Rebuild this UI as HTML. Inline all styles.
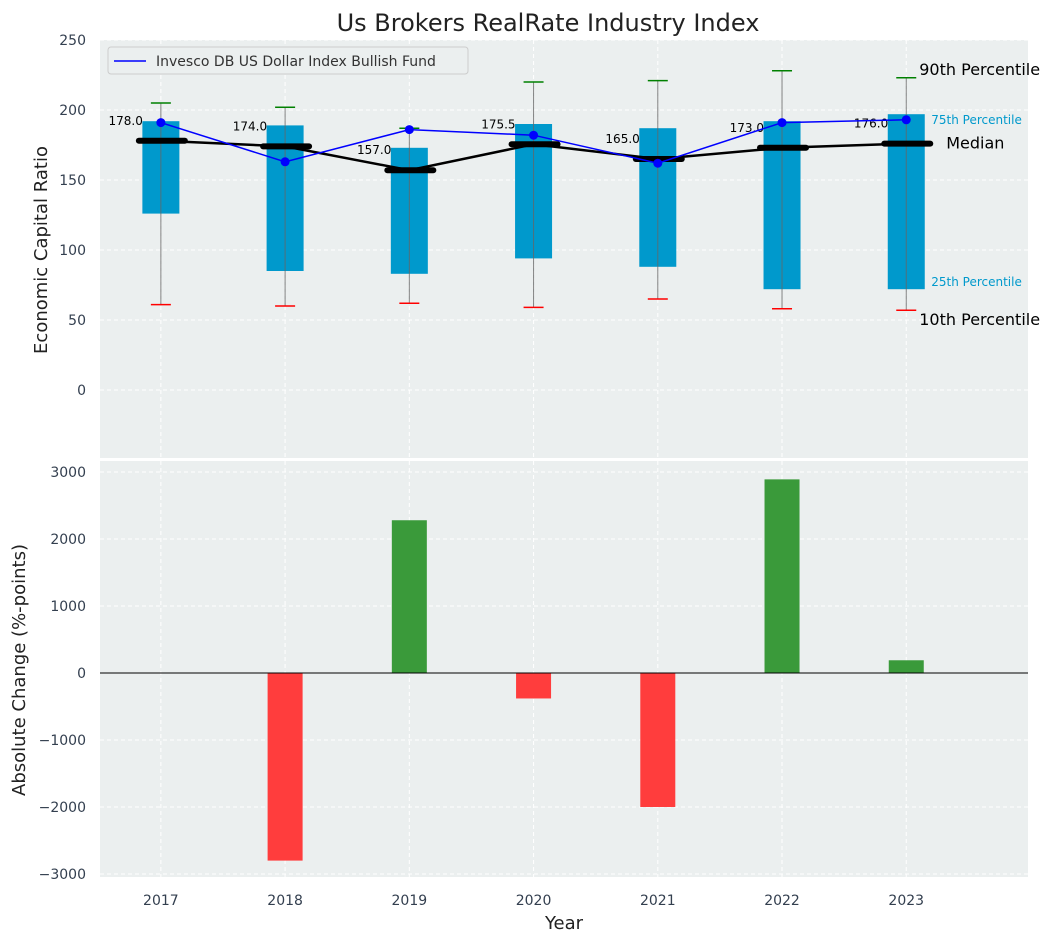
<!DOCTYPE html>
<html><head><meta charset="utf-8"><style>
body{margin:0;background:#fff;font-family:"Liberation Sans","DejaVu Sans",sans-serif;}
svg{display:block}
</style></head><body>
<svg id="chart" width="1054" height="942" xmlns="http://www.w3.org/2000/svg" font-family="DejaVu Sans, Liberation Sans, sans-serif"></svg>
<script>
const years=[2017,2018,2019,2020,2021,2022,2023];
const p10=[61,60,62,59,65,58,57];
const p25=[126,85,83,94,88,72,72];
const medians=[178,174,157,175.5,165,173,176];
const p75=[192,189,173,190,187,192,197];
const p90=[205,202,187,220,221,228,223];
const fundValues=[191,163,186,182,162,191,193];
const changes=[0,-2800,2280,-380,-2000,2890,190];
const topTicks=[0,50,100,150,200,250];
const botTicks=[-3000,-2000,-1000,0,1000,2000,3000];

const svg=document.getElementById('chart');
const NS='http://www.w3.org/2000/svg';
function mk(tag,attrs,parent,text){const e=document.createElementNS(NS,tag);for(const k in attrs)e.setAttribute(k,attrs[k]);if(text!==undefined)e.textContent=text;(parent||svg).appendChild(e);return e;}
const L=100,R=1028;
const x=v=>L+(v-2016.51)/(2023.98-2016.51)*(R-L);
const yT=v=>390-v*1.4;
const yB=v=>673-v*0.067;

let e=mk('rect',{x:L,y:40,width:R-L,height:418,fill:'#ebefef'});

e=mk('rect',{x:L,y:461,width:R-L,height:416,fill:'#ebefef'});


years.forEach(yr=>{
 mk('line',{x1:x(yr),x2:x(yr),y1:40,y2:458,stroke:'#fff','stroke-dasharray':'4,3','stroke-width':1});
 mk('line',{x1:x(yr),x2:x(yr),y1:461,y2:877,stroke:'#fff','stroke-dasharray':'4,3','stroke-width':1});
 const t=mk('text',{x:x(yr),y:905,'text-anchor':'middle','font-size':14,fill:'#333f4f'},null,yr);
 
});
topTicks.forEach(v=>{
 mk('line',{x1:L,x2:R,y1:yT(v),y2:yT(v),stroke:'#fff','stroke-dasharray':'4,3'});
 const t=mk('text',{x:86,y:yT(v)+5,'text-anchor':'end','font-size':14,fill:'#333f4f'},null,v);
 
});
botTicks.forEach(v=>{
 mk('line',{x1:L,x2:R,y1:yB(v),y2:yB(v),stroke:'#fff','stroke-dasharray':'4,3'});
 const t=mk('text',{x:86,y:yB(v)+5,'text-anchor':'end','font-size':14,fill:'#333f4f'},null,v<0?'\u2212'+(-v):v);
 
});

years.forEach((yr,i)=>{
 const cx=x(yr);
 let b=mk('rect',{x:cx-18.5,y:yT(p75[i]),width:37,height:yT(p25[i])-yT(p75[i]),fill:'#0099cc'});
 
 let w=mk('line',{x1:cx,x2:cx,y1:yT(p10[i]),y2:yT(p90[i]),stroke:'#666','stroke-width':1,opacity:0.8});
 
 let c1=mk('line',{x1:cx-10,x2:cx+10,y1:yT(p10[i]),y2:yT(p10[i]),stroke:'red','stroke-width':1.5});
 
 let c2=mk('line',{x1:cx-10,x2:cx+10,y1:yT(p90[i]),y2:yT(p90[i]),stroke:'green','stroke-width':1.5});
 
});
let mp=mk('polyline',{points:years.map((yr,i)=>x(yr)+','+yT(medians[i])).join(' '),fill:'none',stroke:'#000','stroke-width':2.5});

years.forEach((yr,i)=>{
 const cx=x(yr);
 let m=mk('line',{x1:cx-22,x2:cx+24,y1:yT(medians[i]),y2:yT(medians[i]),stroke:'#000','stroke-width':6,'stroke-linecap':'round'});
 
 let t=mk('text',{x:cx-18,y:yT(medians[i])-16,'text-anchor':'end','font-size':12,fill:'#000'},null,medians[i].toFixed(1));
 
});
let fl=mk('polyline',{points:years.map((yr,i)=>x(yr)+','+yT(fundValues[i])).join(' '),fill:'none',stroke:'blue','stroke-width':1.5});

years.forEach((yr,i)=>{
 let p=mk('circle',{cx:x(yr),cy:yT(fundValues[i]),r:4.5,fill:'blue'});
 
});
const last=years.length-1, ax=x(years[last]);
[[p90[last],'90th Percentile',13,16,'#000',-3],[p75[last],'75th Percentile',25,12,'#0099cc',10],[medians[last],'Median',40,16,'#000',5],[p25[last],'25th Percentile',25,12,'#0099cc',-3],[p10[last],'10th Percentile',13,16,'#000',15]].forEach(a=>{
 let t=mk('text',{x:ax+a[2],y:yT(a[0])+a[5],'font-size':a[3],fill:a[4]},null,a[1]);
 
});
let lg=mk('g',{});
mk('rect',{x:108,y:47,width:360,height:27,rx:3,fill:'#ebefef',stroke:'#ccc'},lg);
mk('line',{x1:114,x2:146,y1:61,y2:61,stroke:'blue','stroke-width':1.5},lg);
mk('text',{x:156,y:66,'font-size':14,fill:'#333'},lg,'Invesco DB US Dollar Index Bullish Fund');

years.forEach((yr,i)=>{
 const v=changes[i];if(v===0)return;
 let b=mk('rect',{x:x(yr)-17.5,y:Math.min(yB(v),yB(0)),width:35,height:Math.abs(yB(v)-yB(0)),fill:v>0?'#3a9a3a':'#ff3d3d'});
 
});
mk('line',{x1:L,x2:R,y1:yB(0),y2:yB(0),stroke:'#000','stroke-width':1});

let t=mk('text',{x:548,y:31,'text-anchor':'middle','font-size':24,fill:'#222'},null,'Us Brokers RealRate Industry Index');

t=mk('text',{x:564,y:929,'text-anchor':'middle','font-size':18,fill:'#222'},null,'Year');

t=mk('text',{x:47,y:250,'text-anchor':'middle','font-size':18,fill:'#222',transform:'rotate(-90 47 250)'},null,'Economic Capital Ratio');

t=mk('text',{x:25,y:670,'text-anchor':'middle','font-size':18,fill:'#222',transform:'rotate(-90 25 670)'},null,'Absolute Change (%-points)');

</script>
</body></html>
